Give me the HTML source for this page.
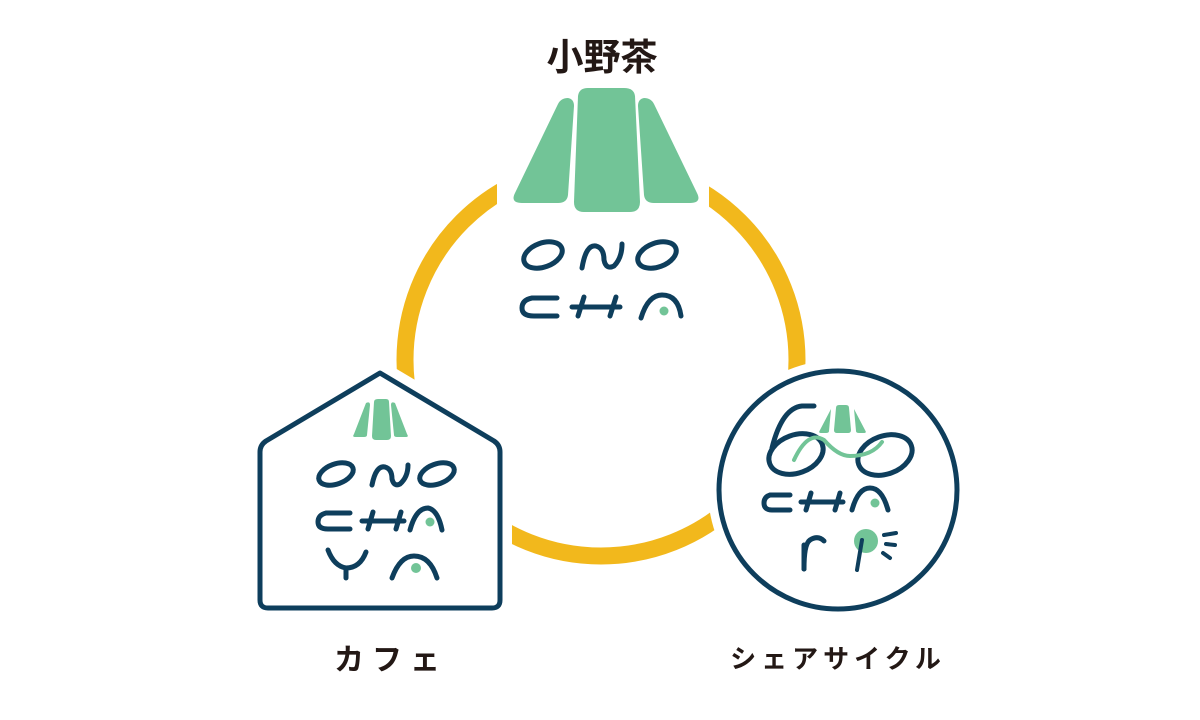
<!DOCTYPE html>
<html><head><meta charset="utf-8"><style>
html,body{margin:0;padding:0;background:#fff;}
svg{display:block}
text{font-family:"Liberation Sans","Noto Sans CJK JP",sans-serif;fill:#231815}
</style></head><body>
<svg width="1200" height="720" viewBox="0 0 1200 720" xmlns="http://www.w3.org/2000/svg">
<!-- ring -->
<circle cx="601" cy="360" r="196" fill="none" stroke="#f2b81c" stroke-width="17"/>
<rect x="497" y="140" width="212" height="70" fill="#fff"/>
<!-- top logo -->
<g fill="#72c497">
<path d="M578 96 Q579 88 588 88 L624 88 Q634 88 635 96 L640 202 Q640 212 630 212 L584 212 Q574 212 574 202 Z"/>
<path d="M558 104 Q561 98 568 98 Q574 99 574 106 L568 195 Q567 203 558 203 L522 203 Q510 203 515 193 Z"/>
<path d="M654 104 Q651 98 644 98 Q638 99 638 106 L644 195 Q645 203 654 203 L690 203 Q702 203 697 193 Z"/>
</g>
<g fill="none" stroke="#0e3e5c" stroke-width="5" stroke-linecap="round">
<ellipse cx="543" cy="255" rx="20" ry="12" transform="rotate(-20 543 255)"/>
<path d="M582 268 Q586 244 596 246 Q604 248 604 260 Q606 270 614 266 Q622 258 622 244"/>
<ellipse cx="657" cy="255" rx="20" ry="12" transform="rotate(-20 657 255)"/>
<path d="M557 298 L532 298 Q522 300 522 308 Q522 316 534 316 L557 316"/>
<path d="M578 316 L584 297 M572 307 L620 307 M610 316 L616 297"/>
<path d="M641 318 Q648 295 662 295 Q678 295 681 316"/>
</g>
<circle cx="664" cy="311" r="4.5" fill="#72c497"/>
<!-- house -->
<path d="M380 373 L494 441 Q500 445 500 452 L500 600 Q500 608 492 608 L268 608 Q260 608 260 600 L260 452 Q260 445 266 441 Z" fill="#fff" stroke="#fff" stroke-width="24" stroke-linejoin="round"/>
<path d="M380 373 L494 441 Q500 445 500 452 L500 600 Q500 608 492 608 L268 608 Q260 608 260 600 L260 452 Q260 445 266 441 Z" fill="#fff" stroke="#0e3e5c" stroke-width="5" stroke-linejoin="round"/>
<g fill="#72c497">
<path d="M374 402 Q374 399 378 399 L386 399 Q389 399 389 402 L391 436 Q391 440 387 440 L376 440 Q372 440 372 436 Z"/>
<path d="M366 403 Q370 401 370 405 L367 435 Q367 437 364 437 L355 437 Q352 437 354 434 Z"/>
<path d="M395 403 Q391 401 391 405 L394 435 Q394 437 397 437 L406 437 Q409 437 407 434 Z"/>
</g>
<g fill="none" stroke="#0e3e5c" stroke-width="5" stroke-linecap="round">
<ellipse cx="336" cy="474" rx="18" ry="10" transform="rotate(-20 336 474)"/>
<path d="M372 485 Q376 465 385 467 Q392 469 392 479 Q394 487 400 484 Q408 477 408 465"/>
<ellipse cx="437" cy="474" rx="18" ry="10" transform="rotate(-20 437 474)"/>
<path d="M350 513 L326 513 Q318 515 318 522 Q318 529 328 529 L350 529"/>
<path d="M368 529 L373 512 M362 521 L404 521 M396 529 L401 512"/>
<path d="M410 530 Q416 508 428 508 Q438 510 442 530"/>
<path d="M328 550 Q334 566 346 568 Q360 568 366 552 M346 568 L346 578"/>
<path d="M392 578 Q400 556 414 556 Q430 556 437 578"/>
</g>
<circle cx="430" cy="522" r="4.5" fill="#72c497"/>
<circle cx="416" cy="568" r="5" fill="#72c497"/>
<!-- bike circle -->
<circle cx="838" cy="490" r="130" fill="#fff"/>
<circle cx="838" cy="490" r="119" fill="#fff" stroke="#0e3e5c" stroke-width="5"/>
<g fill="#72c497">
<path d="M836 408 Q836 405 839 405 L846 405 Q849 405 849 408 L851 430 Q851 433 848 433 L837 433 Q834 433 834 430 Z"/>
<path d="M831 409 L829 431 Q829 433 826 433 L821 433 Q818 433 820 430 Z"/>
<path d="M854 409 L856 431 Q856 433 859 433 L864 433 Q867 433 865 430 Z"/>
</g>
<g fill="none" stroke="#0e3e5c" stroke-width="5" stroke-linecap="round">
<ellipse cx="796" cy="454" rx="28" ry="19" transform="rotate(-20 796 454)"/>
<path d="M772 448 Q782 408 802 406 L814 406"/>
<ellipse cx="885" cy="455" rx="28" ry="19" transform="rotate(-20 885 455)"/>
<path d="M790 495 L770 495 Q764 497 764 503 Q764 510 772 510 L790 510"/>
<path d="M806 510 L811 493 M801 502 L843 502 M835 510 L840 493"/>
<path d="M852 510 Q858 488 870 488 Q882 488 888 510"/>
<path d="M804 569 Q804 544 810 540 Q818 535 824 541"/>
<path d="M804 545 L804 569"/>
</g>
<path d="M794 460 Q808 430 824 440 Q838 456 850 456 Q872 456 882 442" fill="none" stroke="#72c497" stroke-width="4" stroke-linecap="round"/>
<circle cx="875" cy="503" r="4.5" fill="#72c497"/>
<circle cx="866" cy="541" r="12" fill="#72c497"/>
<g fill="none" stroke="#0e3e5c" stroke-width="4" stroke-linecap="round">
<path d="M862 540 L857 570"/>
<path d="M884 535 L896 533 M886 544 L895 545 M883 553 L890 558"/>
</g>
<!-- labels -->
<text x="602" y="70" font-size="37" font-weight="bold" text-anchor="middle">小野茶</text>
<text x="391" y="670" font-size="30" font-weight="bold" text-anchor="middle" letter-spacing="8">カフェ</text>
<text x="838" y="668" font-size="26" font-weight="bold" text-anchor="middle" letter-spacing="5">シェアサイクル</text>
</svg>
</body></html>
